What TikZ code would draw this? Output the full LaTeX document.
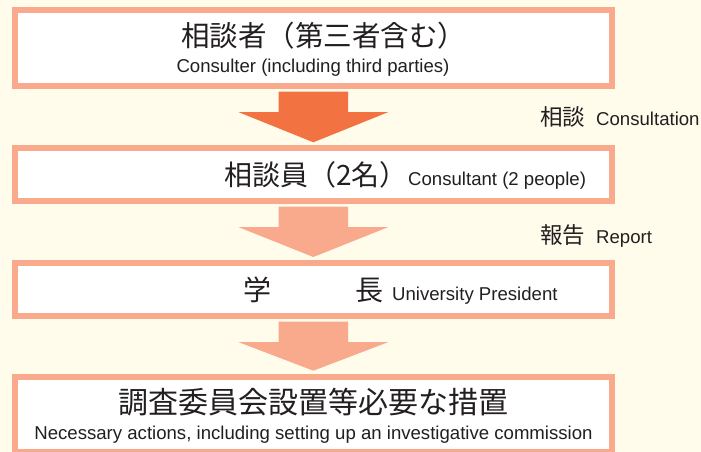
\documentclass[tikz,border=0pt]{standalone}
\usepackage{fontspec}
\setmainfont{Liberation Sans}
\newfontfamily\jpfont{Noto Sans CJK JP}
\usetikzlibrary{positioning, calc}

\definecolor{cream}{RGB}{255,252,236}
\definecolor{salmon}{RGB}{249,170,140}
\definecolor{deeporange}{RGB}{243,114,66}
\definecolor{inkgray}{RGB}{35,31,32}

\begin{document}
\begin{tikzpicture}[x=1pt, y=-1pt,
	box/.style={draw=salmon, line width=6pt, fill=white, minimum width=597.3pt, inner sep=0pt},
	jp/.style={font=\jpfont\fontsize{#1pt}{#1pt}\selectfont, text=inkgray, inner sep=0pt, anchor=base},
	en/.style={font=\fontsize{18.6pt}{20pt}\selectfont, text=inkgray, inner sep=0pt, anchor=base}]
	\useasboundingbox (0,0) rectangle (701,452);
	\fill[cream] (0,0) rectangle (701,452);

	% the four steps
	\node (consulter) at (313.35,47.85) [box, minimum height=75.7pt] {};
	\node (consultant) at (313.35,174.5) [box, minimum height=52.4pt] {};
	\node (president) at (313.35,289.35) [box, minimum height=52.7pt] {};
	\node (actions) at (313.35,414.5) [box, minimum height=75.6pt] {};

	% block arrows
	\fill[deeporange] ([xshift=-34.65pt, yshift=-3pt]consulter.south) -- ++(0,20.5) -- ++(-40,0) -- ([yshift=3pt]consultant.north) -- ([xshift=74.7pt, yshift=-23.5pt]consulter.south) -- ++(-40,0) -- ([xshift=34.65pt, yshift=-3pt]consulter.south) -- cycle;
	\fill[salmon] ([xshift=-34.65pt, yshift=-3pt]consultant.south) -- ++(0,20.5) -- ++(-40,0) -- ([yshift=3pt]president.north) -- ([xshift=74.7pt, yshift=-23.5pt]consultant.south) -- ++(-40,0) -- ([xshift=34.65pt, yshift=-3pt]consultant.south) -- cycle;
	\fill[salmon] ([xshift=-34.65pt, yshift=-3pt]president.south) -- ++(0,20.5) -- ++(-40,0) -- ([yshift=3pt]actions.north) -- ([xshift=74.7pt, yshift=-23.5pt]president.south) -- ++(-40,0) -- ([xshift=34.65pt, yshift=-3pt]president.south) -- cycle;

	% texts
	\node (consulterjp) at (181,46.3) [jp=28.5, anchor=base west] {相談者（第三者含む）};
	\node (consulteren) at (313,72.6) [en] {Consulter (including third parties)};
	\node (consultantjp) at (224,185.5) [jp=28, anchor=base west] {相談員（2名）};
	\node (consultanten) at (408,185) [en, anchor=base west] {Consultant (2 people)};
	\node (presidentjp) at (243,300) [jp=28, anchor=base west] {学　　　長};
	\node (presidenten) at (392,300) [en, anchor=base west] {University President};
	\node (actionsjp) at (313,413) [jp=30] {調査委員会設置等必要な措置};
	\node (actionsen) at (313.5,439.3) [en] {Necessary actions, including setting up an investigative commission};

	% arrow labels
	\node (consultjp) at (540,125) [jp=22.5, anchor=base west] {相談};
	\node (consulten) at (596,125) [en, anchor=base west] {Consultation};
	\node (reportjp) at (540,243) [jp=22.5, anchor=base west] {報告};
	\node (reporten) at (596,243) [en, anchor=base west] {Report};
\end{tikzpicture}
\end{document}
